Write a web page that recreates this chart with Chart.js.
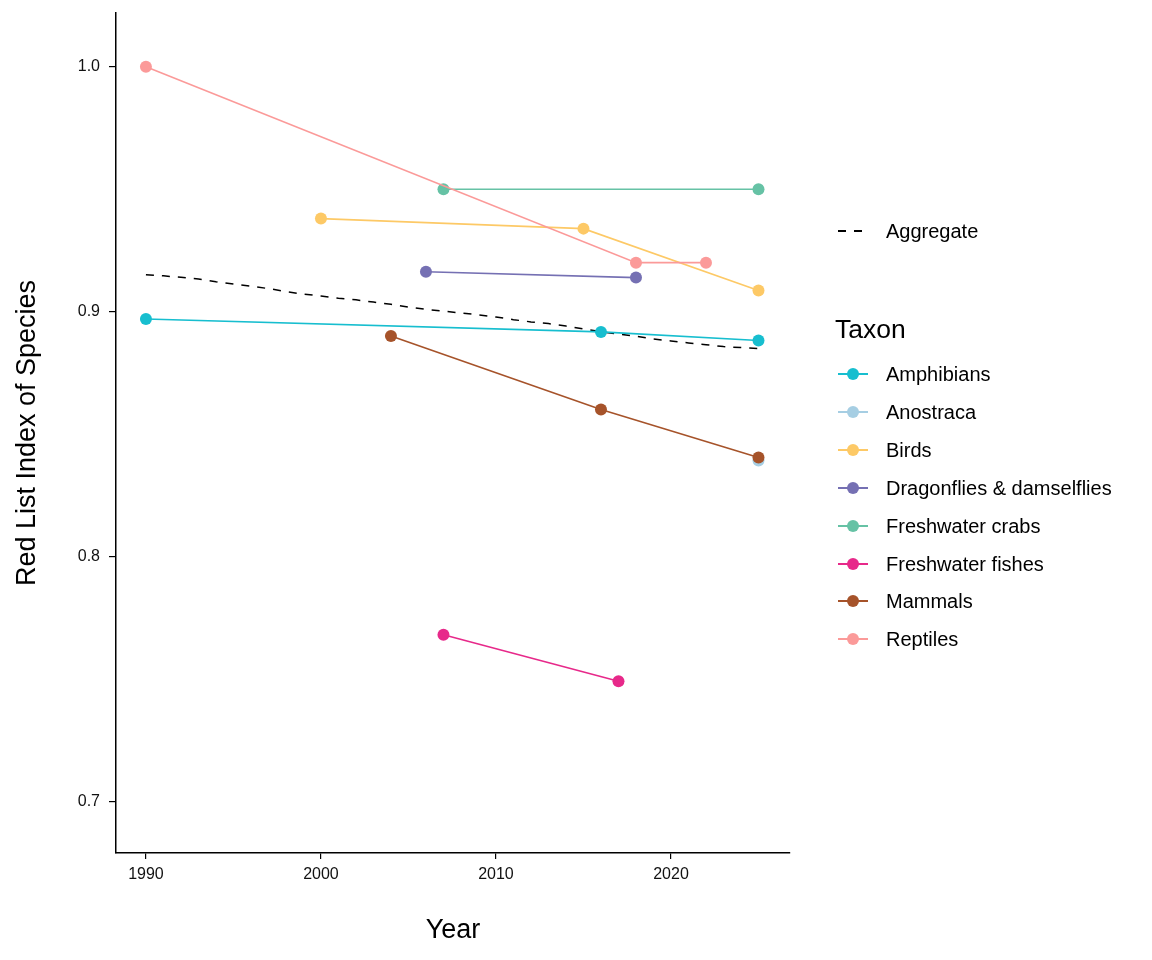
<!DOCTYPE html>
<html>
<head>
<meta charset="utf-8">
<script src="https://cdn.jsdelivr.net/npm/chart.js@4.4.1/dist/chart.umd.min.js"></script>
<style>
  html, body { margin:0; padding:0; background:#fff; }
  #wrap { position:relative; width:1152px; height:960px; font-family:"Liberation Sans", Arial, sans-serif; }
  #c { position:absolute; left:0; top:0; }
  .lg { position:absolute; left:838px; height:20px; width:310px; }
  .lg .ln { position:absolute; left:0; top:9px; width:30px; height:2px; }
  .lg .pt { position:absolute; left:9px; top:4px; width:12px; height:12px; border-radius:50%; }
  .lg .tx { position:absolute; left:48px; top:0; font-size:20px; line-height:20px; color:#000; white-space:nowrap; }
  .dash { position:absolute; top:9px; width:8px; height:2px; background:#000; }
  #ttl { position:absolute; left:835px; top:315px; font-size:26.5px; line-height:28px; color:#000; }
</style>
</head>
<body>
<div id="wrap">
<canvas id="c" width="1152" height="960"></canvas>
<div id="legend"></div>
</div>
<script>
// ---------- data ----------
const taxa = ["Amphibians","Anostraca","Birds","Dragonflies & damselflies","Freshwater crabs","Freshwater fishes","Mammals","Reptiles"];
const colors = ["#17BECF","#A6CEE3","#FDC966","#7570B3","#66C2A5","#E7298A","#A6532A","#FB9A99"];

const amphibiansYears = [1990, 2016, 2025];
const amphibiansRLI   = [0.897, 0.8917, 0.8882];
const anostracaYears  = [2025];
const anostracaRLI    = [0.8392];
const birdsYears      = [2000, 2015, 2025];
const birdsRLI        = [0.938, 0.9339, 0.9086];
const dragonfliesYears= [2006, 2018];
const dragonfliesRLI  = [0.9163, 0.9139];
const crabsYears      = [2007, 2025];
const crabsRLI        = [0.950, 0.950];
const fishesYears     = [2007, 2017];
const fishesRLI       = [0.768, 0.749];
const mammalsYears    = [2004, 2016, 2025];
const mammalsRLI      = [0.890, 0.860, 0.8404];
const reptilesYears   = [1990, 2018, 2022];
const reptilesRLI     = [1.000, 0.920, 0.920];

const aggregateYears = [1990,1991,1992,1993,1994,1995,1996,1997,1998,1999,2000,2001,2002,2003,2004,2005,2006,2007,2008,2009,2010,2011,2012,2013,2014,2015,2016,2017,2018,2019,2020,2021,2022,2023,2024,2025];
const aggregateRLI = [0.9151,0.9146,0.9140,0.9133,0.9122,0.9113,0.9104,0.9094,0.9082,0.9071,0.9064,0.9055,0.9048,0.9039,0.9030,0.9018,0.9009,0.9002,0.8994,0.8987,0.8978,0.8967,0.8958,0.8951,0.8941,0.8929,0.8918,0.8908,0.8899,0.8888,0.8880,0.8872,0.8865,0.8857,0.8853,0.8849];

const xTicks = [1990, 2000, 2010, 2020];
const yTicks = [0.7, 0.8, 0.9, 1.0];

// ---------- build ----------
const seriesYears = [amphibiansYears, anostracaYears, birdsYears, dragonfliesYears, crabsYears, fishesYears, mammalsYears, reptilesYears];
const seriesRLI   = [amphibiansRLI, anostracaRLI, birdsRLI, dragonfliesRLI, crabsRLI, fishesRLI, mammalsRLI, reptilesRLI];
const pts = (xs, ys) => xs.map((x, i) => ({x: x, y: ys[i]}));

const datasets = taxa.map((name, i) => ({
  label: name,
  data: pts(seriesYears[i], seriesRLI[i]),
  borderColor: colors[i],
  backgroundColor: colors[i],
  borderWidth: 1.6,
  pointRadius: 6,
  pointBorderWidth: 0,
  pointHoverRadius: 6,
  order: taxa.length - i,
  tension: 0
}));
datasets.push({
  label: "Aggregate",
  data: pts(aggregateYears, aggregateRLI),
  borderColor: "#000",
  borderWidth: 1.5,
  borderDash: [8, 8],
  pointRadius: 0,
  order: 100,
  tension: 0
});

const tickFont = {family: "Liberation Sans, Arial, sans-serif", size: 16};
const titleFont = {family: "Liberation Sans, Arial, sans-serif", size: 27};

new Chart(document.getElementById('c'), {
  type: 'line',
  data: { datasets: datasets },
  options: {
    responsive: false,
    animation: false,
    devicePixelRatio: 1,
    layout: { padding: { left: 0, top: 13, right: 362, bottom: 0 } },
    plugins: { legend: { display: false }, tooltip: { enabled: false } },
    scales: {
      x: {
        type: 'linear',
        min: 1988.29, max: 2026.8,
        afterBuildTicks: s => { s.ticks = xTicks.map(v => ({value: v})); },
        afterFit: s => { s.height = 107; s.paddingLeft = 0; s.paddingRight = 0; },
        ticks: { font: tickFont, color: '#111', padding: 6, maxRotation: 0, callback: v => String(v) },
        grid: { display: true, drawOnChartArea: false, drawTicks: true, tickLength: 6, color: '#000', lineWidth: 1.2 },
        border: { display: true, color: '#000', width: 1.5 },
        title: { display: true, text: 'Year', font: titleFont, color: '#000', padding: { top: 0, bottom: 13 } }
      },
      y: {
        type: 'linear',
        min: 0.6788, max: 1.022,
        afterBuildTicks: s => { s.ticks = yTicks.map(v => ({value: v})); },
        afterFit: s => { s.width = 116; s.paddingTop = 0; s.paddingBottom = 0; },
        ticks: { font: tickFont, color: '#111', padding: 9, callback: v => Number(v).toFixed(1) },
        grid: { display: true, drawOnChartArea: false, drawTicks: true, tickLength: 7, color: '#000', lineWidth: 1.2 },
        border: { display: true, color: '#000', width: 1.5 },
        title: { display: true, text: 'Red List Index of Species', font: titleFont, color: '#000', padding: { top: 11, bottom: 0 } }
      }
    }
  }
});

// ---------- legend (HTML) ----------
const lg = document.getElementById('legend');
let html = '<div class="lg" style="top:221px"><div class="dash" style="left:0"></div><div class="dash" style="left:16px"></div><div class="tx">Aggregate</div></div>';
html += '<div id="ttl">Taxon</div>';
taxa.forEach((name, i) => {
  const top = 364 + i * 37.9;
  html += '<div class="lg" style="top:' + top + 'px"><div class="ln" style="background:' + colors[i] + '"></div><div class="pt" style="background:' + colors[i] + '"></div><div class="tx">' + name.replace('&', '&amp;') + '</div></div>';
});
lg.innerHTML = html;
</script>
</body>
</html>
